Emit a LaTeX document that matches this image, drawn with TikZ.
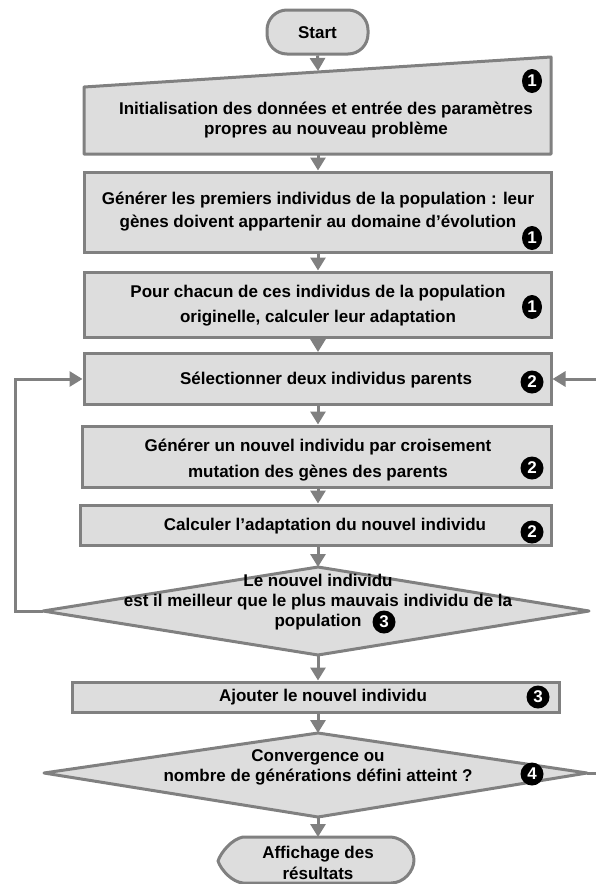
\documentclass[tikz,border=0pt]{standalone}
\usepackage{fontspec}
\setmainfont{Liberation Sans}
\usetikzlibrary{arrows.meta,shapes.geometric}
\definecolor{bfill}{HTML}{DDDDDD}
\definecolor{bline}{HTML}{808080}
\begin{document}
\begin{tikzpicture}[x=1pt,y=-1pt,
  box/.style={draw=bline, fill=bfill, line width=3pt, inner sep=0pt},
  shp/.style={draw=bline, fill=bfill, line width=3pt, line join=round},
  txt/.style={font=\bfseries\fontsize{17}{20}\selectfont, align=center, text=black, inner sep=0pt},
  badge/.style={circle, fill=black, minimum size=23pt, inner sep=0pt, text=white, font=\bfseries\fontsize{17}{17}\selectfont},
  badgeone/.style={ellipse, fill=black, minimum width=20pt, minimum height=24pt, inner sep=0pt, text=white, font=\bfseries\fontsize{17}{17}\selectfont},
  arr/.style={draw=bline, line width=3pt, -{Triangle[length=13pt,width=15pt]}},
]
\useasboundingbox (0,0) rectangle (596,884);

% Start
\node[box, rounded corners=20pt, minimum width=101pt, minimum height=44pt] (start) at (317.5,32) {};
\node[txt] (tstart) at (317.5,33) {Start};

% Box 1 (manual input)
\draw[shp] (84,87) coordinate (b1tl) -- (551,57) coordinate (b1tr) -- (551,154) coordinate (b1br) -- (84,154) coordinate (b1bl) -- cycle;
\coordinate (b1top) at (318,71);
\coordinate (b1bot) at (318,154);
\node[txt] (t1) at (326,120) {Initialisation des données et entrée des paramètres\\propres au nouveau problème};
\node[badgeone] (k1) at (532,81) {1};

% Box 2
\node[box, minimum width=467pt, minimum height=80pt] (b2) at (317.5,212) {};
\node[txt, font=\bfseries\fontsize{17}{23}\selectfont] (t2) at (318,211.5) {Générer les premiers individus de la population : leur\\gènes doivent appartenir au domaine d’évolution};
\node[badgeone] (k2) at (532,238) {1};

% Box 3
\node[box, minimum width=467pt, minimum height=65pt] (b3) at (317.5,304.5) {};
\node[txt, font=\bfseries\fontsize{17}{25}\selectfont] (t3) at (318,305.5) {Pour chacun de ces individus de la population\\originelle, calculer leur adaptation};
\node[badgeone] (k3) at (532,307) {1};

% Box 4
\node[box, minimum width=467pt, minimum height=51pt] (b4) at (317.5,379) {};
\node[txt] (t4) at (326,380) {Sélectionner deux individus parents};
\node[badge] (k4) at (532,382) {2};

% Box 5
\node[box, minimum width=469pt, minimum height=61pt] (b5) at (316.5,456.5) {};
\node[txt, font=\bfseries\fontsize{17}{26}\selectfont] (t5) at (318,460) {Générer un nouvel individu par croisement\\mutation des gènes des parents};
\node[badge] (k5) at (532,468) {2};

% Box 6
\node[box, minimum width=471pt, minimum height=40pt] (b6) at (315.5,525) {};
\node[txt] (t6) at (325,526) {Calculer l’adaptation du nouvel individu};
\node[badge] (k6) at (532,532) {2};

% Diamond 1
\draw[shp] (318,567) coordinate (d1t) -- (589,611) coordinate (d1r) -- (318,655) coordinate (d1b) -- (43,611) coordinate (d1l) -- cycle;
\node[txt] (td1) at (318,602) {Le nouvel individu\\est il meilleur que le plus mauvais individu de la\\population\hspace{26pt}};
\node[badge] (k7) at (384,622) {3};

% Box 7
\node[box, minimum width=487pt, minimum height=30pt] (b7) at (315.5,697) {};
\node[txt] (t7) at (323,697) {Ajouter le nouvel individu};
\node[badge] (k8) at (538,697) {3};

% Diamond 2
\draw[shp] (318,733) coordinate (d2t) -- (587,773) coordinate (d2r) -- (318,817) coordinate (d2b) -- (44,773) coordinate (d2l) -- cycle;
\node[txt] (td2) at (318,767) {Convergence ou\\nombre de générations défini atteint ?};
\node[badge] (k9) at (532,774) {4};

% End (display)
\draw[shp] (243,837) coordinate (endtop) -- (391,837)
  .. controls (404,838) and (414,850) .. (414,860)
  .. controls (414,871) and (404,883) .. (391,883)
  -- (243,883)
  .. controls (232,882) and (221,870) .. (218,861)
  .. controls (221,852) and (232,839) .. (243,837) -- cycle;
\coordinate (endn) at (318,837);
\node[txt, font=\bfseries\fontsize{17}{21}\selectfont] (tend) at (318,862.5) {Affichage des\\résultats};

% Connectors
\draw[arr] (start.south) -- (b1top);
\draw[arr] (b1bot) -- (b2.north -| b1bot);
\draw[arr] (b2.south -| b1bot) -- (b3.north -| b1bot);
\draw[arr] (b3.south -| b1bot) -- (b4.north -| b1bot);
\draw[arr] (b4.south -| b1bot) -- (b5.north -| b1bot);
\draw[arr] (b5.south -| b1bot) -- (b6.north -| b1bot);
\draw[arr] (b6.south -| b1bot) -- (d1t);
\draw[arr] (d1b) -- (b7.north -| b1bot);
\draw[arr] (b7.south -| b1bot) -- (d2t);
\draw[arr] (d2b) -- (endn);
\draw[arr] (d1l) -- (15,611) |- (b4.west);
\draw[arr] (d2r) -- (603,773) |- (b4.east);
\end{tikzpicture}
\end{document}
